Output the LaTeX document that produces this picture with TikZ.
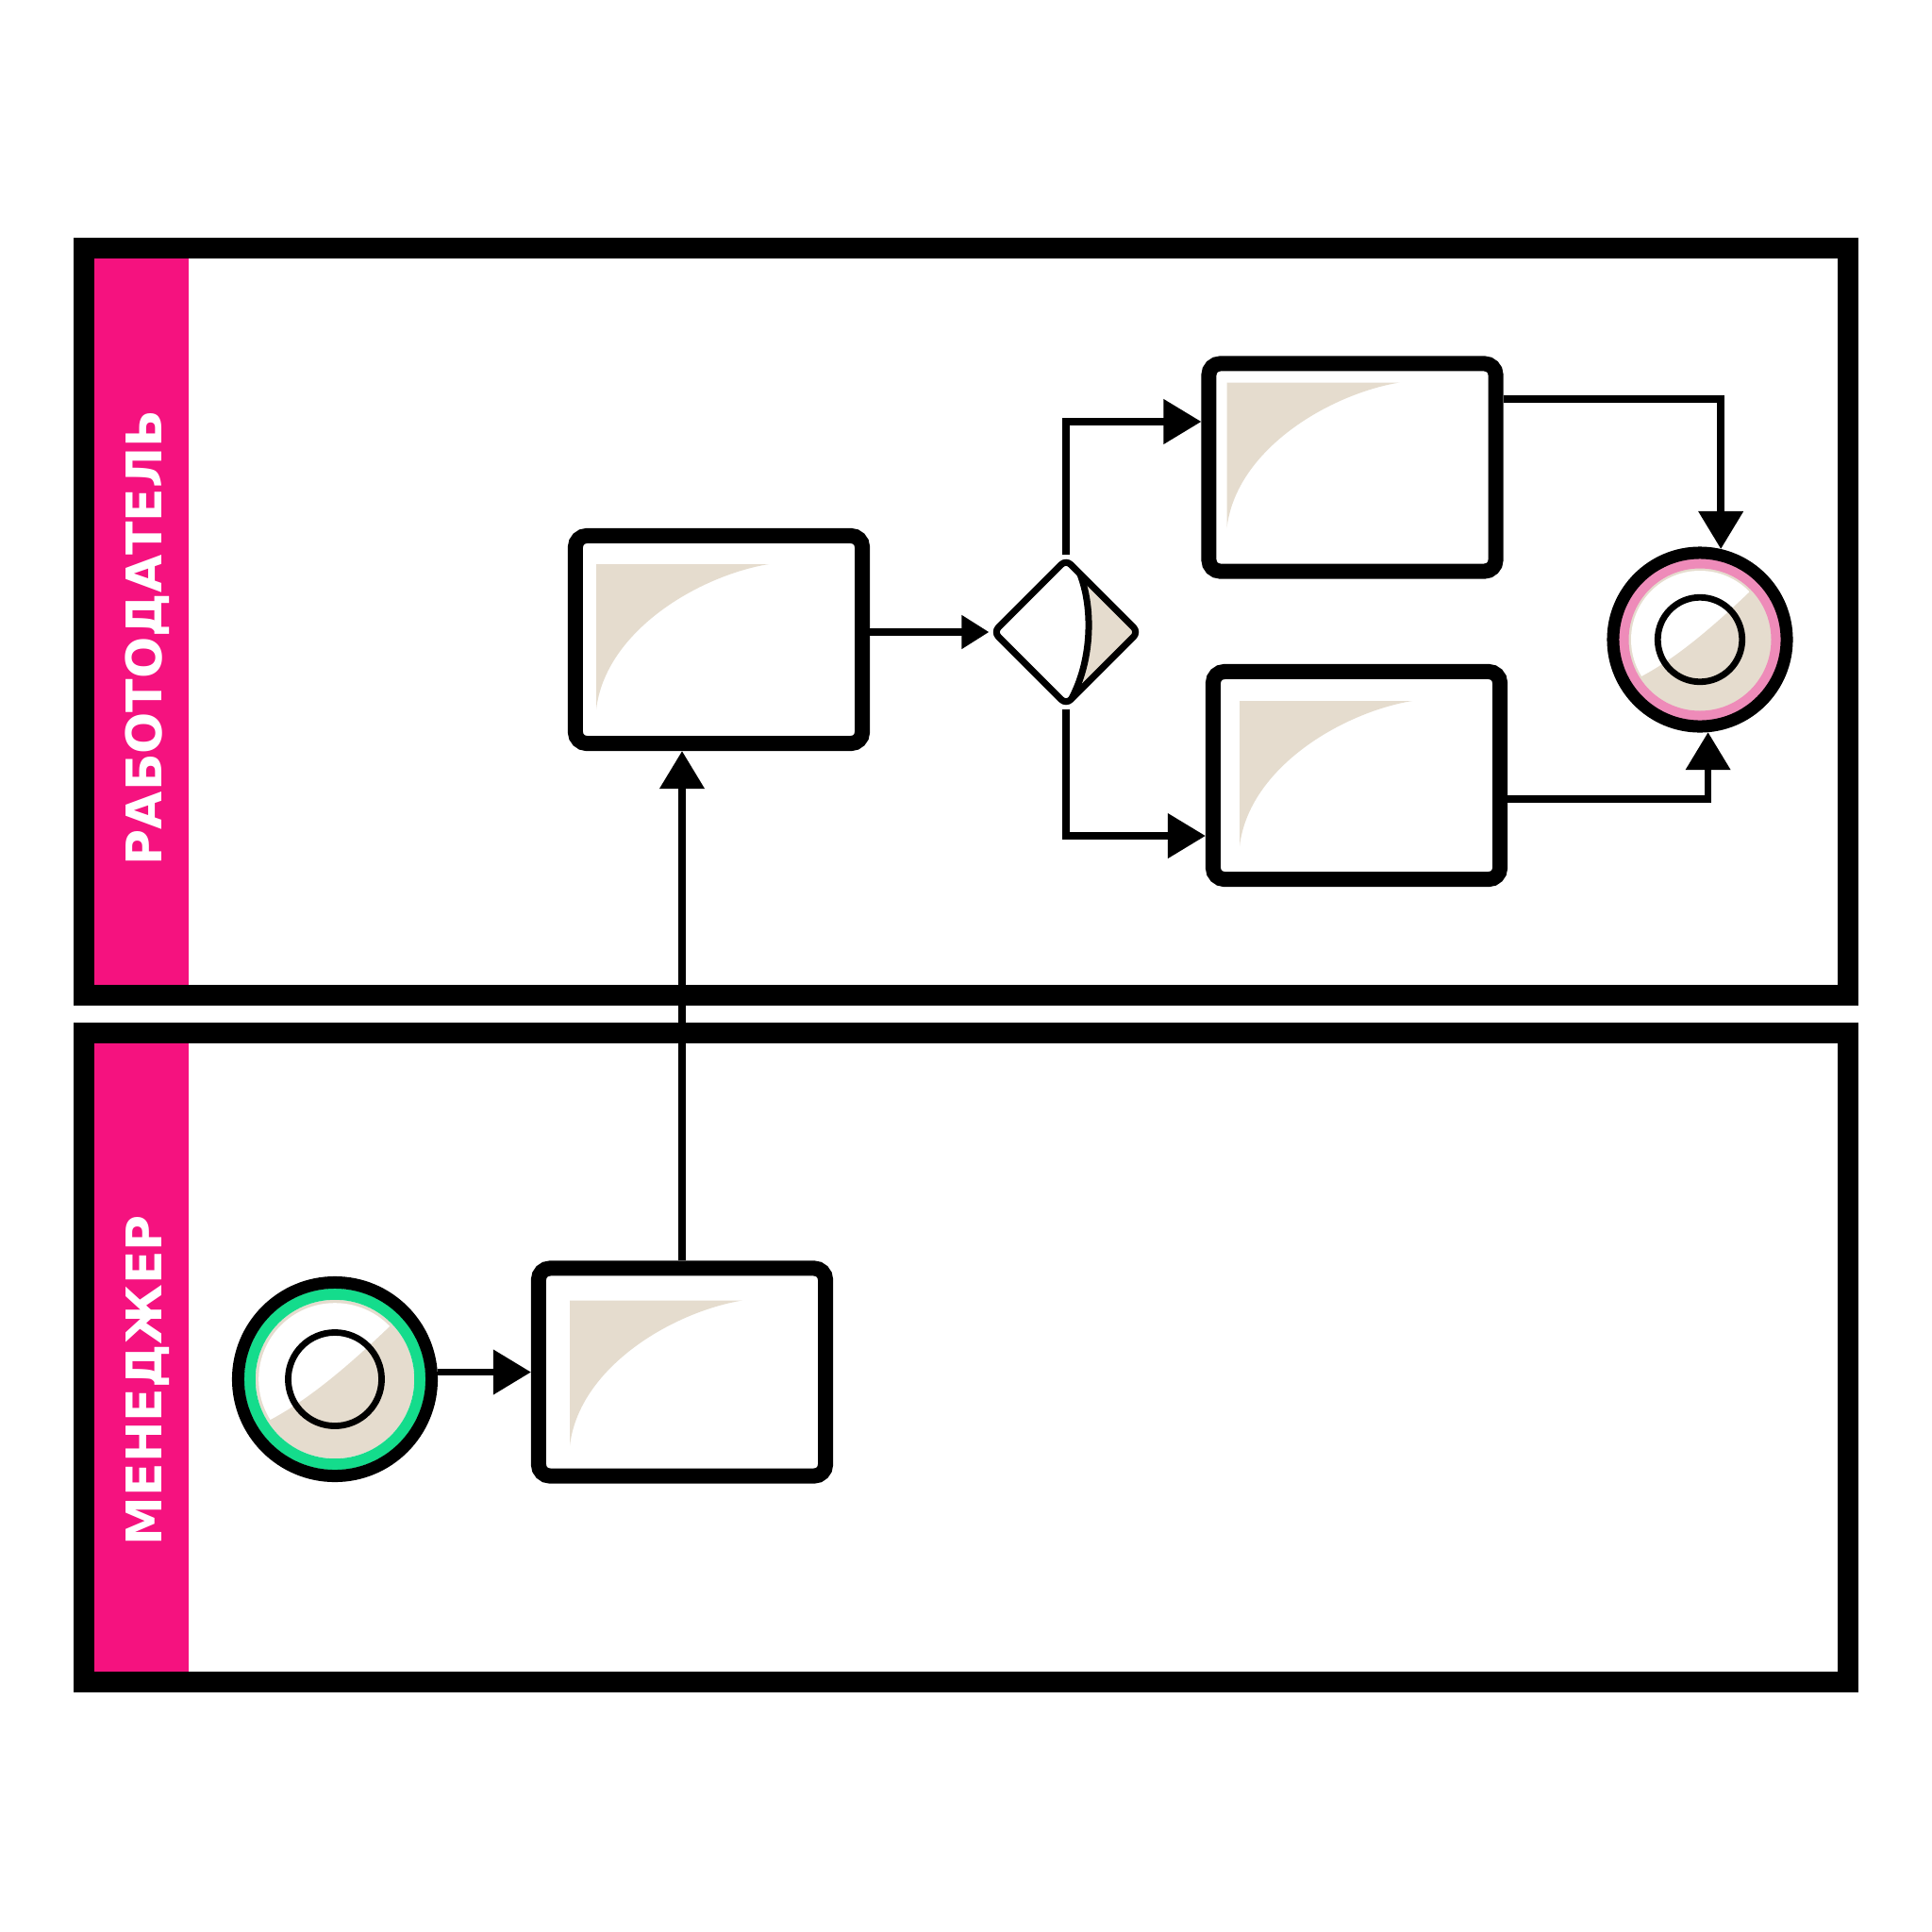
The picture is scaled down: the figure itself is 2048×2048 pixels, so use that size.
\documentclass[tikz,border=0pt]{standalone}
\usepackage{fontspec}
\usepackage{tikz}
\usepackage{pdfrender}
\usetikzlibrary{shapes.geometric, arrows.meta, positioning, calc}
\newfontfamily\lanefont{DejaVu Sans Bold}

\definecolor{lanepink}{HTML}{F5127F}
\definecolor{beige}{HTML}{E5DCCE}
\definecolor{startgreen}{HTML}{14DC8C}
\definecolor{endpink}{HTML}{EE8BB9}

\newcommand{\heavy}[1]{\textpdfrender{TextRenderingMode=FillStroke, LineWidth=0.9pt, LineJoin=1}{#1}}

\begin{document}
\begin{tikzpicture}[x=0.01cm, y=-0.01cm,
    lane/.style={draw, line width=0.22cm},
    lanelabel/.style={rotate=90, anchor=base, inner sep=0pt, text=white, font=\lanefont\fontsize{14.8pt}{16pt}\selectfont},
    task/.style 2 args={rectangle, draw, fill=white, line width=0.16cm, rounded corners=0.12cm, minimum width=3.04cm, minimum height=2.2cm, inner sep=0pt,
        path picture={\fill[beige, sharp corners] ({#1-152},{#2-110}) -- ({#1+31},{#2-110}) .. controls ({#1-42},{#2-98}) and ({#1-142},{#2-40}) .. ({#1-152},{#2+44}) -- cycle;}},
    gateway/.style={diamond, draw, fill=white, line width=0.07cm, rounded corners=0.07cm, minimum width=1.56cm, minimum height=1.56cm, inner sep=0pt,
        path picture={
            \fill[beige, sharp corners] (13,-66) .. controls (29,-30) and (29,30) .. (4,74) -- (90,74) -- (90,-66) -- cycle;
            \draw[line width=0.07cm, sharp corners] (13,-66) .. controls (29,-30) and (29,30) .. (4,74);}},
    event/.style n args={3}{circle, draw, fill=white, line width=0.13cm, minimum size=#1, inner sep=0pt,
        path picture={
            \fill[beige] (0,0) circle[radius={76*#3}];
            \begin{scope}
                \clip (0,0) circle[radius={73*#3}];
                \fill[white] ({-66*#3},{41*#3}) .. controls ({-35*#3},{25*#3}) and (0,0) .. ({58*#3},{-56*#3}) -- ({58*#3},-120) -- (-120,-120) -- (-120,{41*#3}) -- cycle;
            \end{scope}
            \draw[#2, line width=0.12cm] (0,0) circle[radius={81.5*#3}];
            \draw[black, line width=0.068cm] (0,0) circle[radius={44.75*#3}];}},
    flow/.style={draw, line width=0.075cm, -{Triangle[length=0.4cm, width=0.46cm]}},
    flow small/.style={flow, -{Triangle[length=0.29cm, width=0.34cm]}}]

    \useasboundingbox (0,0) rectangle (2048,2048);

    % Employer lane
    \fill[lanepink] (100,274) rectangle (200,1044);
    \draw[lane] (89,263) rectangle (1959,1055);
    \node[lanelabel] (emplabel) at (171,676) {\heavy{РАБОТОДАТЕЛЬ}};

    % Manager lane
    \fill[lanepink] (100,1106) rectangle (200,1772);
    \draw[lane] (89,1095) rectangle (1959,1782.5);
    \node[lanelabel] (mgrlabel) at (171,1463) {\heavy{МЕНЕДЖЕР}};

    % Start event
    \node[event={2.05cm}{startgreen}{1.107}] (start) at (355,1462) {};

    % Manager task
    \node[task={33}{34}] (mgr) at (723,1454.5) {};
    \draw[flow] (start.east |- mgr.west) -- (mgr.west);

    % Employer task
    \node[task={22}{30}] (emp) at (762,678) {};
    \draw[flow] (mgr.north) -- (mgr.north |- emp.south);

    % Gateway
    \node[gateway] (gate) at (1130,670) {};
    \draw[flow small] (emp.east |- gate.west) -- (gate.west);

    % Upper branch
    \node[task={19}{20}] (up) at (1433.5,495.5) {};
    \draw[flow] (gate.north) |- ([yshift=0.485cm]up.west);

    % Lower branch
    \node[task={28}{31}] (down) at (1438,822) {};
    \draw[flow] (gate.south) |- ([yshift=-0.64cm]down.west);

    % End event
    \node[event={1.84cm}{endpink}{1}] (stop) at (1802,678) {};
    \draw[flow] ([yshift=0.725cm]up.east) -| (stop.77);
    \draw[flow] ([yshift=-0.25cm]down.east) -| (stop.-85);

\end{tikzpicture}
\end{document}
